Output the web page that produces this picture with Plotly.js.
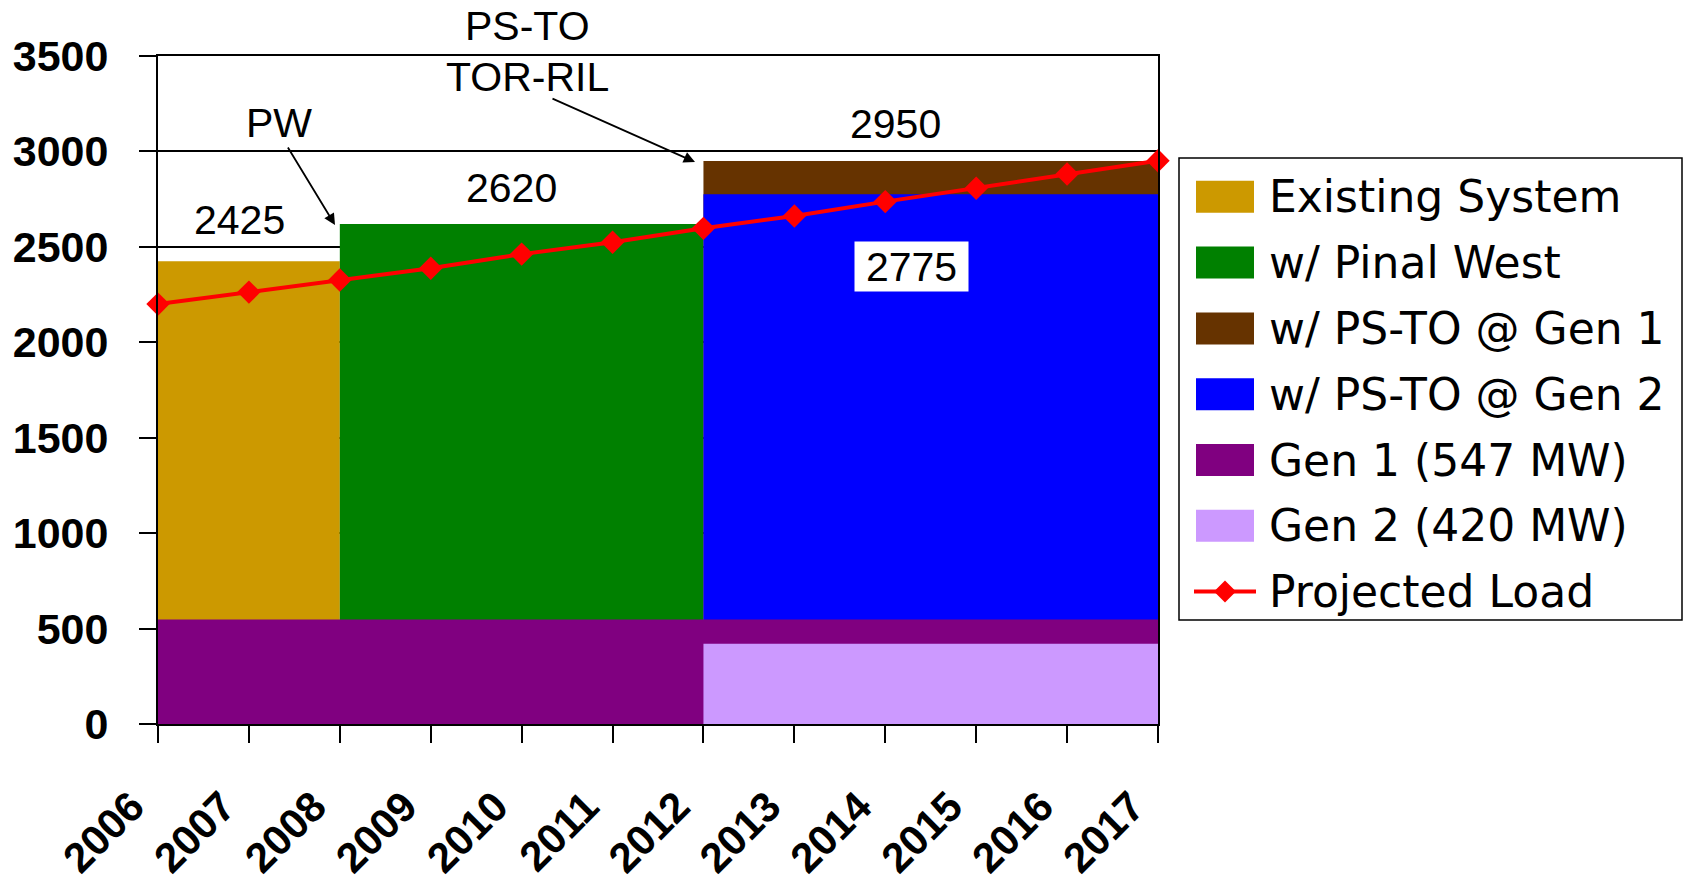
<!DOCTYPE html>
<html>
<head>
<meta charset="utf-8">
<script src="https://cdn.plot.ly/plotly-3.0.1.min.js"></script>
<style>
  html, body { margin: 0; padding: 0; background: #fff; }
  #chart { width: 1688px; height: 883px; }
</style>
</head>
<body>
<div id="chart"></div>
<script>
// ---------------- data ----------------
const years = [2006, 2007, 2008, 2009, 2010, 2011, 2012, 2013, 2014, 2015, 2016, 2017];
const existingSystem = [2425, 2425, 0, 0, 0, 0, 0, 0, 0, 0, 0, 0];
const pinalWest      = [0, 0, 2620, 2620, 2620, 2620, 0, 0, 0, 0, 0, 0];
const psToGen1       = [0, 0, 0, 0, 0, 0, 2950, 2950, 2950, 2950, 2950, 2950];
const psToGen2       = [0, 0, 0, 0, 0, 0, 2775, 2775, 2775, 2775, 2775, 2775];
const gen1           = [547, 547, 547, 547, 547, 547, 547, 547, 547, 547, 547, 547];
const gen2           = [0, 0, 0, 0, 0, 0, 420, 420, 420, 420, 420, 420];
const projectedLoad  = [2200, 2263, 2326, 2388, 2462, 2524, 2597, 2662, 2737, 2807, 2882, 2951];

const seriesNames  = ["Existing System", "w/ Pinal West", "w/ PS-TO @ Gen 1", "w/ PS-TO @ Gen 2", "Gen 1 (547 MW)", "Gen 2 (420 MW)", "Projected Load"];
const seriesColors = ["#CC9900", "#008000", "#663300", "#0000FF", "#800080", "#CC99FF", "#FF0000"];
const areaSeries   = [existingSystem, pinalWest, psToGen1, psToGen2, gen1, gen2];
const yTicks = [0, 500, 1000, 1500, 2000, 2500, 3000, 3500];

// ---------------- layout helpers (pixel -> paper) ----------------
const L = 158, T = 56, W = 1000, H = 668;
const FIG_W = 1688, FIG_H = 883;
const px = x => (x - L) / W;
const py = y => (T + H - y) / H;

const AFONT = { family: "Liberation Sans, Arial, sans-serif", size: 41, color: "#000" };
const XFONT = { family: "Liberation Sans, Arial, sans-serif", size: 42, color: "#000", weight: "bold" };
const YFONT = { family: "Liberation Sans, Arial, sans-serif", size: 43, color: "#000", weight: "bold" };
const LFONT = { family: "DejaVu Sans, Verdana, sans-serif", size: 44, color: "#000" };

// ---------------- traces ----------------
const traces = areaSeries.map((ys, i) => ({
  type: "scatter",
  mode: "lines",
  x: years,
  y: ys,
  name: seriesNames[i],
  line: { shape: "hv", width: 0, color: seriesColors[i] },
  fill: "tozeroy",
  fillcolor: seriesColors[i],
  hoverinfo: "skip",
  showlegend: false
}));
traces.push({
  type: "scatter",
  mode: "lines+markers",
  x: years,
  y: projectedLoad,
  name: seriesNames[6],
  line: { color: seriesColors[6], width: 4 },
  marker: { symbol: "diamond", size: 18, color: seriesColors[6] },
  cliponaxis: false,
  showlegend: false
});

// ---------------- annotations ----------------
const annotations = [
  { text: "PS-TO",   x: px(527), y: py(26) },
  { text: "TOR-RIL", x: px(527), y: py(77) },
  { text: "PW",      x: px(279), y: py(123) },
  { text: String(Math.max(...existingSystem)), x: px(239), y: py(220) },
  { text: String(Math.max(...pinalWest)),      x: px(511), y: py(188) },
  { text: String(Math.max(...psToGen1)),       x: px(895), y: py(124) }
].map(a => Object.assign({ xref: "paper", yref: "paper", showarrow: false,
  xanchor: "center", yanchor: "middle", font: AFONT }, a));

annotations.push({
  text: String(Math.max(...psToGen2)), xref: "paper", yref: "paper",
  x: px(911.5), y: py(266.5), xanchor: "center", yanchor: "middle",
  width: 113, height: 49, bgcolor: "#FFFFFF", borderpad: 0, showarrow: false, font: AFONT
});

// arrows
annotations.push({
  text: "", xref: "paper", yref: "paper", x: px(335), y: py(225),
  ax: 287 - 335, ay: 146 - 225, showarrow: true, arrowhead: 2, arrowsize: 1.25,
  arrowwidth: 1.8, arrowcolor: "#000", standoff: 0
});
annotations.push({
  text: "", xref: "paper", yref: "paper", x: px(695), y: py(162),
  ax: 551 - 695, ay: 98 - 162, showarrow: true, arrowhead: 2, arrowsize: 1.25,
  arrowwidth: 1.8, arrowcolor: "#000", standoff: 0
});

// ---------------- custom legend ----------------
const shapes = [];
const legX0 = 1179, legX1 = 1682, legY0 = 158, legY1 = 620;
shapes.push({ type: "rect", xref: "paper", yref: "paper",
  x0: px(legX0), x1: px(legX1), y0: py(legY1), y1: py(legY0),
  line: { color: "#000", width: 1.5 }, fillcolor: "rgba(255,255,255,1)", layer: "above" });
const rowY0 = 196.8, rowStep = 65.8;
seriesNames.forEach((nm, i) => {
  const cy = rowY0 + i * rowStep;
  if (i < 6) {
    shapes.push({ type: "rect", xref: "paper", yref: "paper",
      x0: px(1196), x1: px(1254), y0: py(cy + 16), y1: py(cy - 16),
      line: { width: 0 }, fillcolor: seriesColors[i], layer: "above" });
  } else {
    shapes.push({ type: "line", xref: "paper", yref: "paper",
      x0: px(1194), x1: px(1256), y0: py(cy), y1: py(cy),
      line: { color: seriesColors[i], width: 4 }, layer: "above" });
    const d = 11;
    shapes.push({ type: "path", xref: "paper", yref: "paper",
      path: `M ${px(1225 - d)} ${py(cy)} L ${px(1225)} ${py(cy - d)} L ${px(1225 + d)} ${py(cy)} L ${px(1225)} ${py(cy + d)} Z`,
      line: { width: 0 }, fillcolor: seriesColors[i], layer: "above" });
  }
  annotations.push({ text: nm, xref: "paper", yref: "paper", x: px(1267), y: py(cy),
    xanchor: "left", yanchor: "middle", showarrow: false, font: LFONT });
});

// ---------------- layout ----------------
const layout = {
  width: FIG_W, height: FIG_H,
  margin: { l: L, r: FIG_W - L - W, t: T, b: FIG_H - T - H, pad: 0 },
  paper_bgcolor: "#FFFFFF", plot_bgcolor: "#FFFFFF",
  showlegend: false,
  xaxis: {
    type: "linear", range: [years[0], years[years.length - 1]],
    tickmode: "array", tickvals: years, ticktext: years.map(String),
    tickangle: -45, ticks: "outside", ticklen: 17, tickwidth: 2, tickcolor: "#000",
    showline: true, linecolor: "#000", linewidth: 2, mirror: true,
    showgrid: false, zeroline: false, tickfont: XFONT,
    ticklabelstandoff: 22, ticklabelshift: -26
  },
  yaxis: {
    range: [0, 3500], tickmode: "array", tickvals: yTicks, ticktext: yTicks.map(String),
    ticks: "outside", ticklen: 17, tickwidth: 2, tickcolor: "#000",
    showline: true, linecolor: "#000", linewidth: 2, mirror: true,
    showgrid: true, gridcolor: "#000", gridwidth: 2, zeroline: false,
    tickfont: YFONT, ticklabelstandoff: 22
  },
  annotations: annotations,
  shapes: shapes
};

Plotly.newPlot("chart", traces, layout, { staticPlot: true, displayModeBar: false });
</script>
</body>
</html>
